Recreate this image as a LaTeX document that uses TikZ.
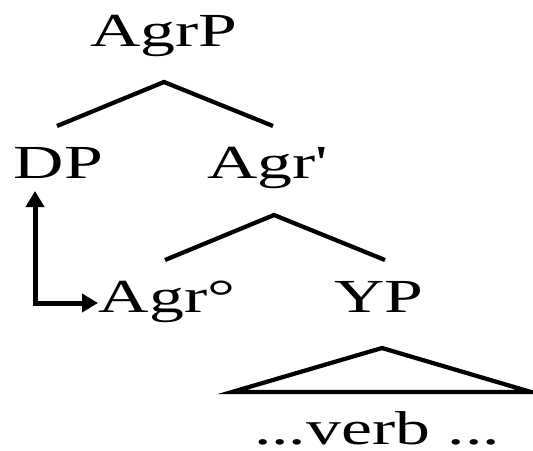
\documentclass[tikz,border=0pt]{standalone}
\usepackage{fontspec}
\setmainfont{Liberation Serif}
\usepackage{tikz}
\usetikzlibrary{arrows.meta}

\newcommand{\wide}[1]{\scalebox{1.47}[1]{#1}}
\tikzset{
    cat/.style={anchor=base, inner sep=0pt, font=\fontsize{27}{27}\selectfont},
    branch/.style={line width=0.085cm},
    move/.style={line width=0.1cm, {Triangle[length=0.32cm,width=0.36cm]}-{Triangle[length=0.32cm,width=0.36cm]}}
}

\begin{document}
\begin{tikzpicture}[x=0.02cm, y=-0.02cm]
    \useasboundingbox (0,0) rectangle (533,450);

    \node[cat] (agrp) at (164,46) {\wide{AgrP}};
    \node[cat] (dp) at (58.5,178) {\wide{DP}};
    \node[cat] (agrbar) at (268,178) {\wide{Agr\textquotesingle}};
    \node[cat] (agrhead) at (167,312) {\wide{Agr\textdegree}};
    \node[cat] (yp) at (379,312) {\wide{YP}};
    \node[cat] (verb) at (377,444) {\wide{...verb ...}};

    \coordinate (top1) at (164,82);
    \coordinate (top2) at (274,215);
    \coordinate (top3) at (382,348);

    \draw[branch] (57,126) -- (top1) -- (273,126);
    \draw[branch] (165,260) -- (top2) -- (385,260);
    \draw[branch] (232,392) -- (top3) -- (531,392) -- cycle;

    % movement of the specifier
    \coordinate (trace) at (35,191);
    \coordinate (landing) at (98,303);
    \draw[move] (trace) |- (landing);
\end{tikzpicture}
\end{document}
